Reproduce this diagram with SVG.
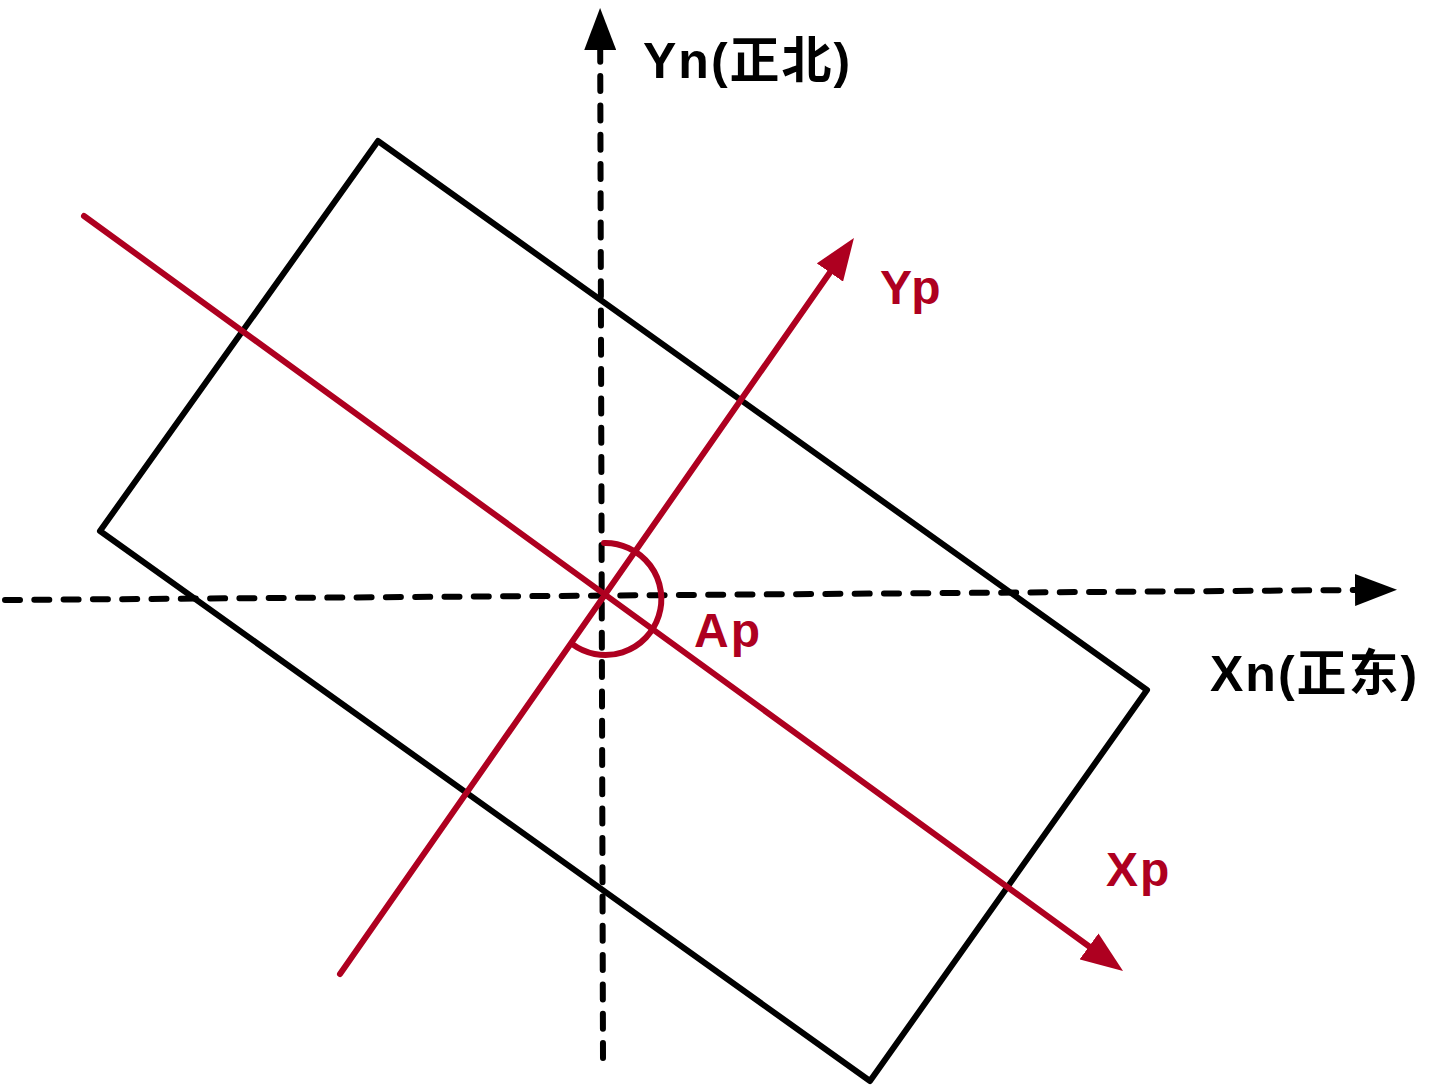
<svg xmlns="http://www.w3.org/2000/svg" width="1440" height="1089" viewBox="0 0 1440 1089">
<defs>
<style>
.axis{stroke:#000;stroke-width:6;fill:none;stroke-dasharray:15 14.3;stroke-linecap:round}
.rect{stroke:#000;stroke-width:6;fill:none;stroke-linejoin:round}
.red{stroke:#AE0020;stroke-width:6;fill:none;stroke-linecap:round}
.lblk{font-family:"Liberation Sans","Noto Sans CJK SC",sans-serif;font-weight:600;font-size:50px;letter-spacing:2px;fill:#000}
.lred{font-family:"Liberation Sans","Noto Sans CJK SC",sans-serif;font-weight:600;font-size:48px;letter-spacing:2px;fill:#AE0020}
</style>
<marker id="ab" viewBox="0 0 42 32" markerWidth="42" markerHeight="32" refX="4" refY="16" orient="auto" markerUnits="userSpaceOnUse">
<path d="M0,0 L42,16 L0,32 z" fill="#000"/>
</marker>
<marker id="ar" viewBox="0 0 42 32" markerWidth="42" markerHeight="32" refX="4" refY="16" orient="auto" markerUnits="userSpaceOnUse">
<path d="M0,0 L42,16 L0,32 z" fill="#AE0020"/>
</marker>
</defs>
<g id="rectangle">
<polygon class="rect" points="378,141 1147,690 870,1081 100,531"/>
</g>
<g id="connectors">
<line class="axis" x1="603" y1="1058" x2="600.2" y2="46" marker-end="url(#ab)"/>
<line class="axis" x1="5" y1="600" x2="1359" y2="590" marker-end="url(#ab)"/>
<line class="red" x1="84" y1="216" x2="1092.3" y2="948.7" marker-end="url(#ar)"/>
<line class="red" x1="340" y1="974" x2="832.2" y2="269.2" marker-end="url(#ar)"/>
<path class="red" d="M604,543 A56,56 0 1 1 571.9,643.9"/>
</g>
<g id="label-yn"><text class="lblk" x="643" y="78">Yn(正北)</text></g>
<g id="label-xn"><text class="lblk" x="1210" y="691">Xn(正东)</text></g>
<g id="label-yp"><text class="lred" x="880" y="304">Yp</text></g>
<g id="label-ap"><text class="lred" x="694" y="647">Ap</text></g>
<g id="label-xp"><text class="lred" x="1106" y="886">Xp</text></g>
</svg>
